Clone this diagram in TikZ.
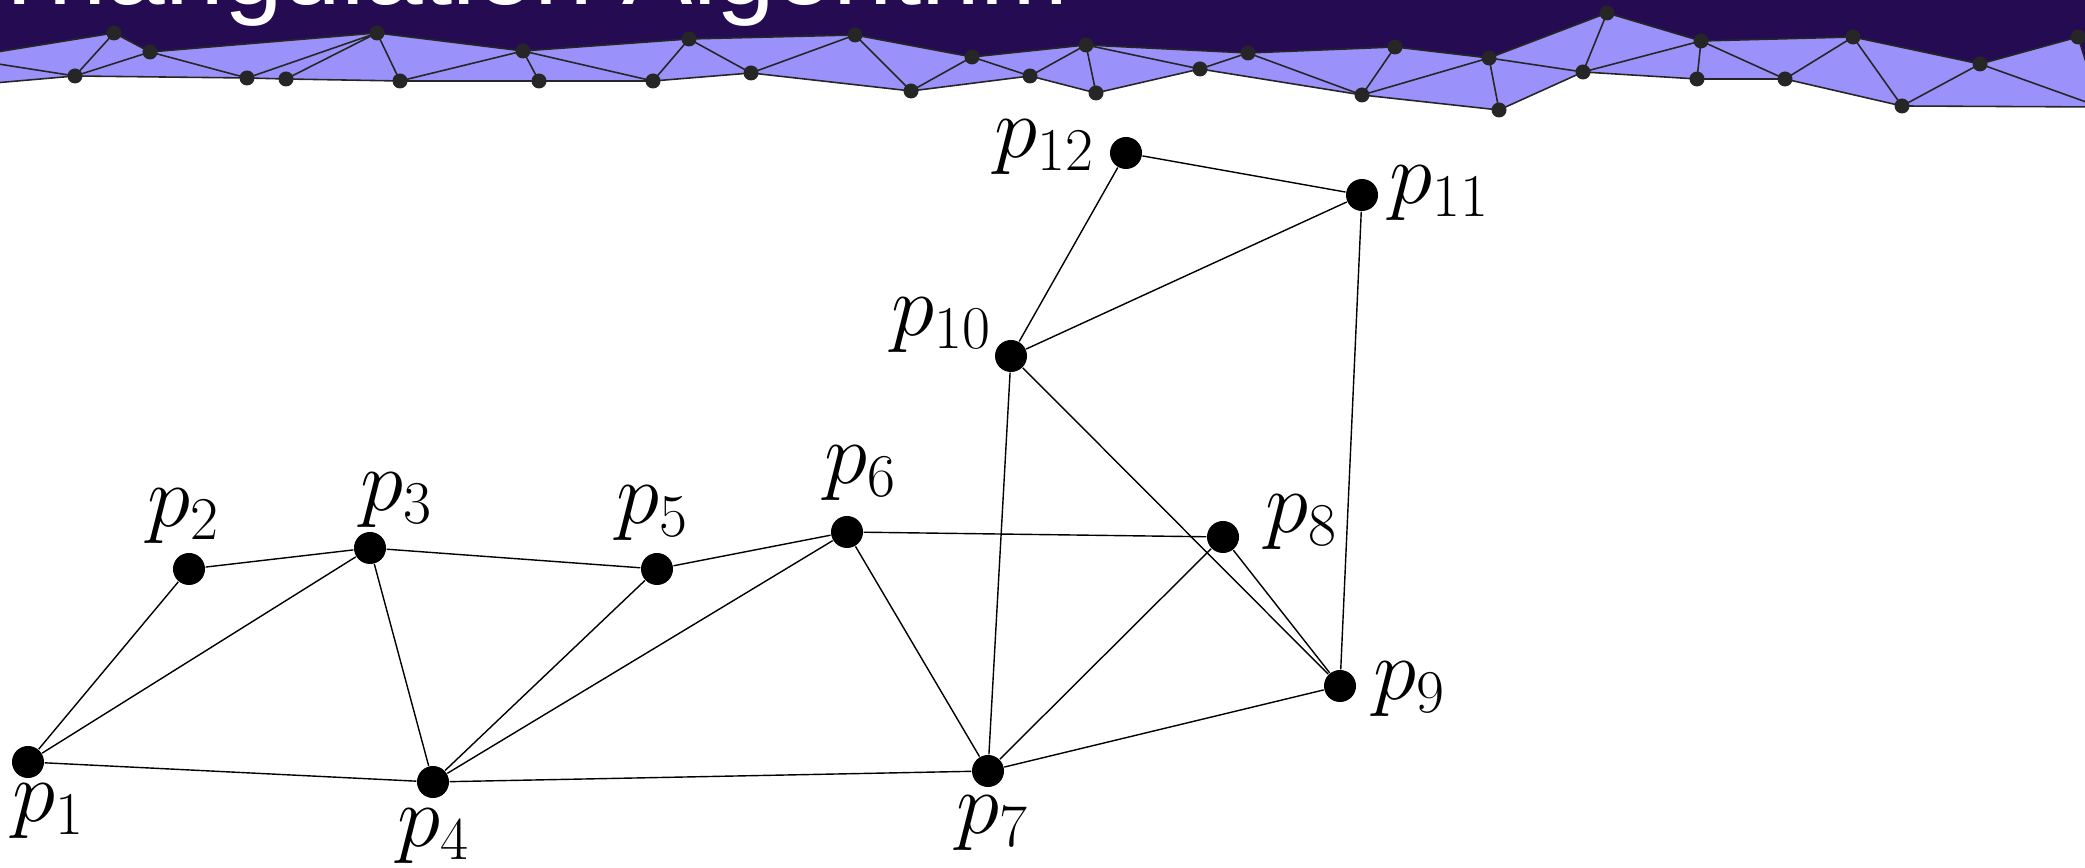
\documentclass[tikz,border=0pt]{standalone}
\usepackage{fontspec}
\newfontfamily\titlefont{Liberation Sans}
\usetikzlibrary{positioning}

\definecolor{bandtop}{RGB}{36,11,82}
\definecolor{bandfill}{RGB}{155,145,250}
\definecolor{meshgray}{RGB}{38,38,38}

\tikzset{
  vertex/.style={circle, fill=black, inner sep=0pt, minimum size=0.32cm},
  plabel/.style={inner sep=0pt, font=\fontsize{23}{27}\selectfont},
  edge/.style={black, line width=0.4pt},
  mesh/.style={meshgray, line width=0.45pt, line join=round}
}

\begin{document}
\begin{tikzpicture}[x=0.01cm, y=-0.01cm]
\useasboundingbox (0,0) rectangle (2085,868);

\begin{scope}
\clip (0,0) rectangle (2085,868);

% header mesh points
\coordinate (ml) at (-40,58);
\coordinate (mll) at (-40,86);
\coordinate (m1) at (114,33);
\coordinate (m2) at (150,52);
\coordinate (m3) at (75,76);
\coordinate (m4) at (247,78);
\coordinate (m5) at (286,79);
\coordinate (m6) at (377,33);
\coordinate (m7) at (400,81);
\coordinate (m8) at (523,51);
\coordinate (m9) at (539,81);
\coordinate (m10) at (653,81);
\coordinate (m11) at (689,39);
\coordinate (m12) at (751,73);
\coordinate (m13) at (855,35);
\coordinate (m14) at (911,91);
\coordinate (m15) at (972,57);
\coordinate (m16) at (1030,76);
\coordinate (m17) at (1086,45);
\coordinate (m18) at (1096,93);
\coordinate (m19) at (1200,69);
\coordinate (m20) at (1248,53);
\coordinate (m21) at (1362,95);
\coordinate (m22) at (1395,47);
\coordinate (m23) at (1489,58);
\coordinate (m24) at (1499,110);
\coordinate (m25) at (1583,72);
\coordinate (m26) at (1607,13);
\coordinate (m27) at (1701,41);
\coordinate (m28) at (1697,79);
\coordinate (m29) at (1853,37);
\coordinate (m30) at (1785,79);
\coordinate (m31) at (1902,106);
\coordinate (m32) at (1980,64);
\coordinate (m33) at (2078,37);
\coordinate (mr) at (2100,107);

% dark title bar
\fill[bandtop] (-60,-10) -- (2150,-10) -- (2150,107) -- (mr) -- (m33) -- (m32) -- (m29)
  -- (m27) -- (m26) -- (m23) -- (m22) -- (m20) -- (m17) -- (m15) -- (m13) -- (m11)
  -- (m8) -- (m6) -- (m2) -- (m1) -- (ml) -- (-60,58) -- cycle;

% light strip
\fill[bandfill] (ml) -- (m1) -- (m2) -- (m6) -- (m8) -- (m11) -- (m13) -- (m15) -- (m17)
  -- (m20) -- (m22) -- (m23) -- (m26) -- (m27) -- (m29) -- (m32) -- (m33) -- (mr)
  -- (m31) -- (m30) -- (m28) -- (m25) -- (m24) -- (m21) -- (m19) -- (m18) -- (m16)
  -- (m14) -- (m12) -- (m10) -- (m9) -- (m7) -- (m5) -- (m4) -- (m3) -- (mll) -- cycle;

% outline
\draw[mesh] (ml) -- (m1) -- (m2) -- (m6) -- (m8) -- (m11) -- (m13) -- (m15) -- (m17)
  -- (m20) -- (m22) -- (m23) -- (m26) -- (m27) -- (m29) -- (m32) -- (m33) -- (mr);
\draw[mesh] (mll) -- (m3) -- (m4) -- (m5) -- (m7) -- (m9) -- (m10) -- (m12) -- (m14)
  -- (m16) -- (m18) -- (m19) -- (m21) -- (m24) -- (m25) -- (m28) -- (m30) -- (m31) -- (mr);

% inner edges
\draw[mesh] (ml) -- (m3) -- (m1);
\draw[mesh] (m3) -- (m2) -- (m4) -- (m6) -- (m5);
\draw[mesh] (m6) -- (m7) -- (m8) -- (m9);
\draw[mesh] (m8) -- (m10) -- (m11) -- (m12) -- (m13) -- (m14) -- (m15) -- (m16) -- (m17) -- (m18);
\draw[mesh] (m17) -- (m19) -- (m20) -- (m21) -- (m22);
\draw[mesh] (m21) -- (m23) -- (m24);
\draw[mesh] (m23) -- (m25) -- (m26);
\draw[mesh] (m25) -- (m27) -- (m28);
\draw[mesh] (m27) -- (m30) -- (m29) -- (m31) -- (m32) -- (mr);

\foreach \m in {ml,mll,m1,m2,m3,m4,m5,m6,m7,m8,m9,m10,m11,m12,m13,m14,m15,m16,m17,
  m18,m19,m20,m21,m22,m23,m24,m25,m26,m27,m28,m29,m30,m31,m32,m33,mr}
  \fill[meshgray] (\m) circle[radius=0.075cm];

\node[anchor=base west, inner sep=0pt, text=white,
  font=\titlefont\fontsize{30}{36}\selectfont] (title) at (-13,5) {Triangulation Algorithm};
\end{scope}

% points
\node[vertex] (p1) at (28,762) {};
\node[vertex] (p2) at (189,569) {};
\node[vertex] (p3) at (370,548) {};
\node[vertex] (p4) at (433,782) {};
\node[vertex] (p5) at (657,569) {};
\node[vertex] (p6) at (847,532) {};
\node[vertex] (p7) at (988,771) {};
\node[vertex] (p8) at (1223,537) {};
\node[vertex] (p9) at (1340,686) {};
\node[vertex] (p10) at (1011,356) {};
\node[vertex] (p11) at (1362,195) {};
\node[vertex] (p12) at (1126,153) {};

% triangulation
\draw[edge] (p1) -- (p2);
\draw[edge] (p1) -- (p3);
\draw[edge] (p1) -- (p4);
\draw[edge] (p2) -- (p3);
\draw[edge] (p3) -- (p4);
\draw[edge] (p3) -- (p5);
\draw[edge] (p4) -- (p5);
\draw[edge] (p4) -- (p6);
\draw[edge] (p5) -- (p6);
\draw[edge] (p4) -- (p7);
\draw[edge] (p6) -- (p7);
\draw[edge] (p6) -- (p8);
\draw[edge] (p7) -- (p8);
\draw[edge] (p7) -- (p9);
\draw[edge] (p7) -- (p10);
\draw[edge] (p8) -- (p9);
\draw[edge] (p10) -- (p9);
\draw[edge] (p10) -- (p11);
\draw[edge] (p10) -- (p12);
\draw[edge] (p12) -- (p11);
\draw[edge] (p11) -- (p9);

% labels
\node[plabel] (l1) at (49,811) {$p_1$};
\node[plabel] (l2) at (184,516) {$p_2$};
\node[plabel] (l3) at (397,500) {$p_3$};
\node[plabel] (l4) at (434,836) {$p_4$};
\node[plabel] (l5) at (653,513) {$p_5$};
\node[plabel] (l6) at (861,473) {$p_6$};
\node[plabel] (l7) at (993,823) {$p_7$};
\node[plabel] (l8) at (1302,522) {$p_8$};
\node[plabel] (l9) at (1410,689) {$p_9$};
\node[plabel] (l10) at (942,325) {$p_{10}$};
\node[plabel] (l11) at (1440,193) {$p_{11}$};
\node[plabel] (l12) at (1045,147) {$p_{12}$};

\end{tikzpicture}
\end{document}
